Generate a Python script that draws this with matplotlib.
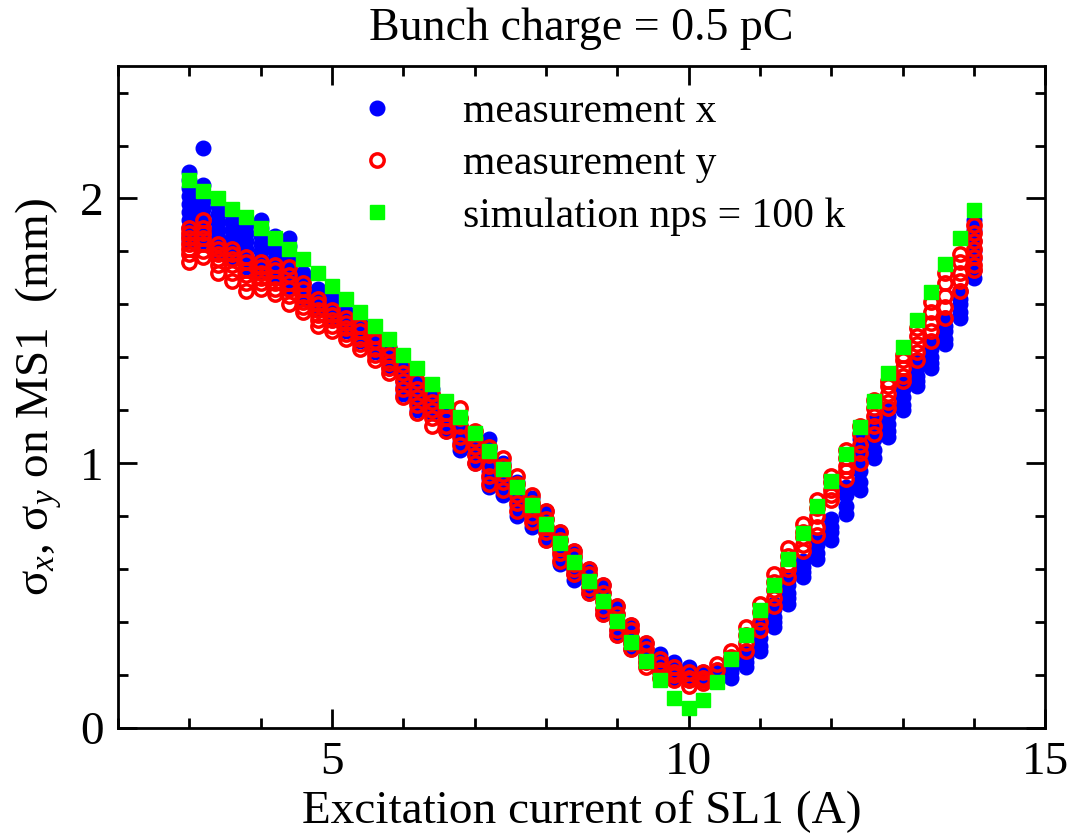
import numpy as np
import matplotlib
matplotlib.use('Agg')
import matplotlib.pyplot as plt
from matplotlib.ticker import MultipleLocator

plt.rcParams['font.family'] = ['Liberation Serif', 'DejaVu Serif']
plt.rcParams['mathtext.fontset'] = 'custom'
plt.rcParams['mathtext.rm'] = 'Liberation Serif'
plt.rcParams['mathtext.it'] = 'Liberation Serif:italic'

# excitation current of SL1 (A)
currents = [3.0, 3.2, 3.4, 3.6, 3.8, 4.0, 4.2, 4.4, 4.6, 4.8,
            5.0, 5.2, 5.4, 5.6, 5.8, 6.0, 6.2, 6.4, 6.6, 6.8,
            7.0, 7.2, 7.4, 7.6, 7.8, 8.0, 8.2, 8.4, 8.6, 8.8,
            9.0, 9.2, 9.4, 9.6, 9.8, 10.0, 10.2, 10.4, 10.6, 10.8,
            11.0, 11.2, 11.4, 11.6, 11.8, 12.0, 12.2, 12.4, 12.6, 12.8,
            13.0, 13.2, 13.4, 13.6, 13.8, 14.0]

# simulation, one value per current (mm)
sim = [2.07, 2.03, 2.00, 1.96, 1.93, 1.89, 1.85, 1.81, 1.77, 1.72,
       1.67, 1.62, 1.57, 1.52, 1.47, 1.41, 1.36, 1.30, 1.235, 1.175,
       1.115, 1.045, 0.98, 0.91, 0.842, 0.772, 0.70, 0.628, 0.556, 0.48,
       0.405, 0.326, 0.254, 0.181, 0.112, 0.074, 0.105, 0.175, 0.259, 0.35,
       0.445, 0.539, 0.638, 0.737, 0.838, 0.933, 1.034, 1.136, 1.237, 1.34,
       1.438, 1.54, 1.645, 1.751, 1.85, 1.955]

# measured sigma_x, several shots per current
meas_x = [
    [2.10, 2.07, 2.04, 2.01, 1.98, 1.95, 1.92, 1.89, 1.86, 1.84],   # 3.0
    [2.19, 2.05, 2.02, 1.99, 1.96, 1.93, 1.90, 1.87, 1.84],         # 3.2
    [1.97, 1.94, 1.91, 1.88, 1.85, 1.83, 1.80],                     # 3.4
    [1.94, 1.91, 1.88, 1.85, 1.82, 1.79, 1.77],                     # 3.6
    [1.90, 1.87, 1.84, 1.81, 1.78, 1.76, 1.74],                     # 3.8
    [1.92, 1.89, 1.86, 1.83, 1.80, 1.77, 1.74, 1.72],               # 4.0
    [1.86, 1.83, 1.80, 1.77, 1.74, 1.72, 1.70],                     # 4.2
    [1.85, 1.82, 1.79, 1.76, 1.73, 1.70, 1.68, 1.66],               # 4.4
    [1.72, 1.70, 1.68, 1.66, 1.64, 1.62],                           # 4.6
    [1.66, 1.64, 1.62, 1.60, 1.58],                                 # 4.8
    [1.63, 1.61, 1.59, 1.57, 1.54],                                 # 5.0
    [1.57, 1.55, 1.53, 1.52, 1.50],                                 # 5.2
    [1.53, 1.51, 1.49, 1.48, 1.46],                                 # 5.4
    [1.49, 1.47, 1.45, 1.44, 1.42],                                 # 5.6
    [1.44, 1.42, 1.40, 1.38, 1.36],                                 # 5.8
    [1.36, 1.34, 1.31, 1.29, 1.26],                                 # 6.0
    [1.31, 1.29, 1.26, 1.23, 1.20],                                 # 6.2
    [1.28, 1.26, 1.24, 1.22, 1.19],                                 # 6.4
    [1.22, 1.20, 1.17, 1.15, 1.12],                                 # 6.6
    [1.17, 1.14, 1.11, 1.08, 1.05],                                 # 6.8
    [1.10, 1.08, 1.05, 1.03, 1.00],                                 # 7.0
    [1.09, 1.05, 1.01, 0.97, 0.94, 0.91],                           # 7.2
    [1.00, 0.97, 0.94, 0.91, 0.88],                                 # 7.4
    [0.93, 0.90, 0.87, 0.84, 0.80],                                 # 7.6
    [0.87, 0.84, 0.82, 0.79, 0.76],                                 # 7.8
    [0.82, 0.79, 0.76, 0.74, 0.71],                                 # 8.0
    [0.74, 0.71, 0.68, 0.65, 0.62],                                 # 8.2
    [0.67, 0.64, 0.61, 0.58, 0.56],                                 # 8.4
    [0.60, 0.58, 0.55, 0.53, 0.51],                                 # 8.6
    [0.54, 0.51, 0.48, 0.45, 0.43],                                 # 8.8
    [0.46, 0.43, 0.40, 0.37, 0.35],                                 # 9.0
    [0.39, 0.37, 0.34, 0.32, 0.30],                                 # 9.2
    [0.32, 0.30, 0.28, 0.27, 0.25],                                 # 9.4
    [0.28, 0.26, 0.24, 0.22, 0.21],                                 # 9.6
    [0.25, 0.23, 0.21, 0.19],                                       # 9.8
    [0.23, 0.21, 0.20, 0.18],                                       # 10.0
    [0.21, 0.20, 0.19, 0.18],                                       # 10.2
    [0.22, 0.20, 0.19],                                             # 10.4
    [0.26, 0.23, 0.21, 0.19],                                       # 10.6
    [0.29, 0.27, 0.25, 0.23],                                       # 10.8
    [0.40, 0.37, 0.34, 0.31, 0.29],                                 # 11.0
    [0.47, 0.45, 0.42, 0.40, 0.38],                                 # 11.2
    [0.56, 0.54, 0.51, 0.49, 0.47],                                 # 11.4
    [0.63, 0.61, 0.59, 0.57],                                       # 11.6
    [0.71, 0.69, 0.66, 0.64],                                       # 11.8
    [0.79, 0.76, 0.74, 0.71],                                       # 12.0
    [0.91, 0.88, 0.84, 0.81],                                       # 12.2
    [1.09, 1.05, 1.01, 0.97, 0.93, 0.90],                           # 12.4
    [1.16, 1.12, 1.09, 1.05, 1.02],                                 # 12.6
    [1.21, 1.18, 1.15, 1.12, 1.10],                                 # 12.8
    [1.31, 1.28, 1.25, 1.22, 1.20],                                 # 13.0
    [1.39, 1.36, 1.33, 1.31, 1.29],                                 # 13.2
    [1.45, 1.43, 1.40, 1.38, 1.36],                                 # 13.4
    [1.55, 1.52, 1.50, 1.47, 1.45],                                 # 13.6
    [1.65, 1.62, 1.60, 1.57, 1.55],                                 # 13.8
    [1.92, 1.88, 1.84, 1.80, 1.77, 1.73, 1.70],                     # 14.0
]

# measured sigma_y, several shots per current
meas_y = [
    [1.89, 1.87, 1.85, 1.83, 1.81, 1.79, 1.76],  # 3.0
    [1.92, 1.89, 1.87, 1.85, 1.83, 1.80, 1.78],  # 3.2
    [1.83, 1.81, 1.79, 1.77, 1.75, 1.72],        # 3.4
    [1.81, 1.79, 1.77, 1.75, 1.72, 1.69],        # 3.6
    [1.78, 1.76, 1.73, 1.71, 1.68, 1.65],        # 3.8
    [1.76, 1.74, 1.72, 1.70, 1.68, 1.66],        # 4.0
    [1.75, 1.73, 1.70, 1.68, 1.66, 1.64],        # 4.2
    [1.74, 1.71, 1.68, 1.66, 1.63, 1.60],        # 4.4
    [1.68, 1.66, 1.63, 1.61, 1.59, 1.57],        # 4.6
    [1.62, 1.60, 1.58, 1.56, 1.54, 1.52],        # 4.8
    [1.58, 1.56, 1.54, 1.52, 1.50],              # 5.0
    [1.55, 1.53, 1.51, 1.49, 1.47],              # 5.2
    [1.52, 1.50, 1.47, 1.45, 1.43],              # 5.4
    [1.48, 1.46, 1.43, 1.41, 1.39],              # 5.6
    [1.43, 1.41, 1.38, 1.36, 1.34],              # 5.8
    [1.37, 1.34, 1.31, 1.28, 1.25],              # 6.0
    [1.31, 1.28, 1.25, 1.22, 1.19],              # 6.2
    [1.26, 1.23, 1.20, 1.17, 1.14],              # 6.4
    [1.22, 1.19, 1.17, 1.14, 1.12],              # 6.6
    [1.21, 1.17, 1.14, 1.10, 1.07],              # 6.8
    [1.12, 1.09, 1.06, 1.03, 1.00],              # 7.0
    [1.06, 1.03, 0.99, 0.95, 0.92],              # 7.2
    [1.02, 0.99, 0.96, 0.93, 0.90],              # 7.4
    [0.95, 0.92, 0.88, 0.85, 0.82],              # 7.6
    [0.88, 0.85, 0.83, 0.80, 0.78],              # 7.8
    [0.82, 0.79, 0.76, 0.74, 0.71],              # 8.0
    [0.74, 0.71, 0.68, 0.66, 0.63],              # 8.2
    [0.67, 0.65, 0.62, 0.60, 0.58],              # 8.4
    [0.60, 0.58, 0.55, 0.53, 0.51],              # 8.6
    [0.54, 0.51, 0.48, 0.45, 0.43],              # 8.8
    [0.46, 0.43, 0.40, 0.37, 0.35],              # 9.0
    [0.39, 0.37, 0.34, 0.32, 0.30],              # 9.2
    [0.32, 0.30, 0.27, 0.25, 0.23],              # 9.4
    [0.26, 0.24, 0.22, 0.21, 0.19],              # 9.6
    [0.23, 0.21, 0.20, 0.18],                    # 9.8
    [0.21, 0.19, 0.18, 0.16],                    # 10.0
    [0.21, 0.19, 0.18, 0.17],                    # 10.2
    [0.24, 0.22],                                # 10.4
    [0.29, 0.27],                                # 10.6
    [0.38, 0.35, 0.32, 0.29],                    # 10.8
    [0.47, 0.44, 0.40, 0.37],                    # 11.0
    [0.58, 0.55, 0.52, 0.49, 0.46],              # 11.2
    [0.68, 0.65, 0.62, 0.60, 0.57],              # 11.4
    [0.77, 0.74, 0.72, 0.69, 0.67],              # 11.6
    [0.86, 0.83, 0.80, 0.76, 0.73],              # 11.8
    [0.95, 0.93, 0.90, 0.88, 0.86],              # 12.0
    [1.05, 1.02, 0.99, 0.97, 0.94],              # 12.2
    [1.14, 1.11, 1.07, 1.04, 1.00],              # 12.4
    [1.24, 1.21, 1.18, 1.14, 1.11],              # 12.6
    [1.31, 1.29, 1.26, 1.23, 1.21],              # 12.8
    [1.41, 1.39, 1.36, 1.33, 1.31],              # 13.0
    [1.51, 1.48, 1.45, 1.42, 1.39],              # 13.2
    [1.61, 1.57, 1.53, 1.50, 1.46],              # 13.4
    [1.72, 1.68, 1.63, 1.59, 1.55],              # 13.6
    [1.79, 1.76, 1.72, 1.69, 1.65],              # 13.8
    [1.90, 1.87, 1.84, 1.81, 1.78, 1.75, 1.73],  # 14.0
]


def flatten(cur, shots):
    xs, ys = [], []
    for c, vals in zip(cur, shots):
        for v in vals:
            xs.append(c)
            ys.append(v)
    return np.array(xs), np.array(ys)


xx, yx = flatten(currents, meas_x)
xy, yy = flatten(currents, meas_y)

fig = plt.figure(figsize=(10.71, 8.4), dpi=100)
ax = fig.add_axes([0.110, 0.1333, 0.866, 0.788])

ax.plot(xx, yx, 'o', ls='none', ms=10.5, mfc='#0000ff', mec='#0000ff', label='measurement x')
ax.plot(xy, yy, 'o', ls='none', ms=9.6, mfc='none', mec='#ff0000', mew=2.5, label='measurement y')
ax.plot(currents, sim, 's', ls='none', ms=9.5, mfc='#00ff00', mec='#00ff00', label='simulation nps = 100 k')

ax.set_xlim(2, 15)
ax.set_ylim(0, 2.5)
ax.xaxis.set_major_locator(MultipleLocator(5))
ax.xaxis.set_minor_locator(MultipleLocator(1))
ax.yaxis.set_major_locator(MultipleLocator(1))
ax.yaxis.set_minor_locator(MultipleLocator(0.2))
ax.tick_params(which='both', direction='in', top=True, right=True, width=2, labelsize=34)
ax.tick_params(which='major', length=14, pad=10)
ax.tick_params(which='minor', length=7)
for s in ax.spines.values():
    s.set_linewidth(2)

ax.set_xlabel('Excitation current of SL1 (A)', fontsize=34, labelpad=4)
ax.set_ylabel(r'$\mathrm{\sigma}_x$, $\mathrm{\sigma}_y$ on MS1  (mm)', fontsize=34, labelpad=12)
ax.set_title('Bunch charge = 0.5 pC', fontsize=33, pad=19)

ax.legend(loc='upper left', bbox_to_anchor=(0.2395, 0.985), frameon=False, fontsize=30,
          handletextpad=1.55, labelspacing=0.33, borderaxespad=0.0, borderpad=0.4,
          handlelength=1.0)

fig.savefig('out.png', dpi=100)
